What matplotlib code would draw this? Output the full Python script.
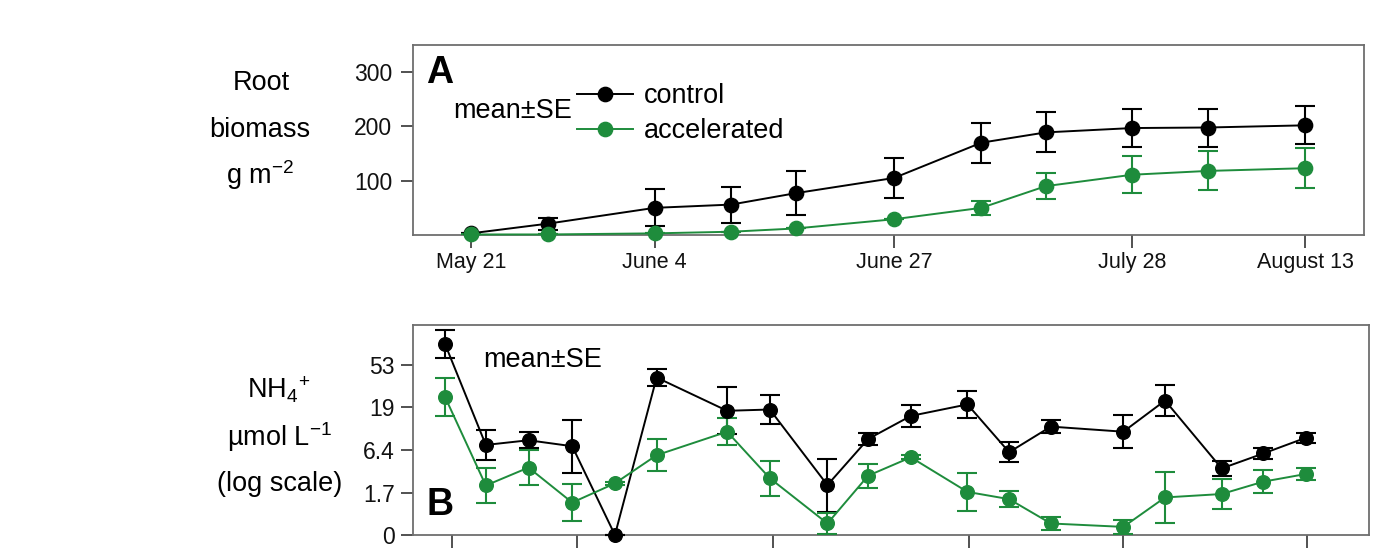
import numpy as np
import matplotlib
matplotlib.use("Agg")
import matplotlib.pyplot as plt
from matplotlib.lines import Line2D

plt.rcParams['font.family'] = ['Liberation Sans', 'DejaVu Sans']
plt.rcParams['mathtext.default'] = 'regular'

# ---------------- data ----------------
# Panel A: root biomass (g m-2), x = day offset from May 21
biomass_x = [0, 7.8, 18.5, 26.2, 32.7, 42.6, 51.4, 57.9, 66.6, 74.2, 84.0]
control_biomass = [3, 21, 50, 56, 77, 105, 170, 189, 197, 198, 202]
control_biomass_se = [0, 11, 34, 33, 41, 37, 37, 37, 35, 35, 35]
accel_biomass = [1, 1, 3, 6, 12, 29, 50, 90, 111, 118, 123]
accel_biomass_se = [0, 0, 0, 0, 0, 0, 13, 24, 34, 36, 37]
biomass_tick_pos = [0, 18.5, 42.6, 66.6, 84.0]
biomass_tick_labels = ["May 21", "June 4", "June 27", "July 28", "August 13"]

# Panel B: NH4+ (plotted as ln(1+x)), mean and SE on that scale
nh4_x = [-2.6, 1.5, 5.8, 10.2, 14.5, 18.7, 25.8, 30.1, 35.9, 40.0,
         44.3, 50.0, 54.2, 58.4, 65.7, 69.9, 75.6, 79.8, 84.1]
control_nh4 = [4.47, 2.11, 2.22, 2.08, 0.0, 3.69, 2.91, 2.94, 1.17, 2.25,
               2.79, 3.06, 1.94, 2.54, 2.42, 3.15, 1.56, 1.91, 2.28]
control_nh4_se = [0.33, 0.35, 0.19, 0.62, 0.0, 0.20, 0.55, 0.33, 0.62, 0.14,
                  0.25, 0.32, 0.24, 0.15, 0.39, 0.37, 0.17, 0.13, 0.12]
accel_nh4 = [3.23, 1.16, 1.58, 0.76, 1.21, 1.87, 2.42, 1.33, 0.27, 1.39,
             1.82, 1.01, 0.84, 0.27, 0.19, 0.88, 0.96, 1.25, 1.43]
accel_nh4_se = [0.45, 0.42, 0.41, 0.43, 0.03, 0.37, 0.32, 0.41, 0.24, 0.28,
                0.05, 0.44, 0.19, 0.16, 0.17, 0.59, 0.36, 0.27, 0.14]
nh4_tick_labels = ["0", "1.7", "6.4", "19", "53"]
nh4_xtick_pos = [-1.9, 10.7, 30.4, 50.2, 65.7, 84.2]

# ---------------- style ----------------
GREEN = '#1e8c3c'
BLACK = '#000000'
SPINE = '#6e6e6e'
LBL = 19.5

fig = plt.figure(figsize=(13.82, 5.52), dpi=100)
axA = fig.add_axes([0.2988, 0.5743, 0.6882, 0.3442])
axB = fig.add_axes([0.2988, 0.0308, 0.6918, 0.3804])

def style_axes(ax):
    for s in ax.spines.values():
        s.set_color(SPINE)
        s.set_linewidth(1.3)
    ax.tick_params(axis='both', length=9, width=1.2, color='#333333',
                   labelsize=15.5, labelcolor='#111111')

def draw(ax, x, y, se, color, ms):
    ax.errorbar(x, y, yerr=se, color=color, lw=1.4, marker='o', ms=ms,
                mec=color, mfc=color, elinewidth=1.5, capsize=7,
                capthick=1.5, clip_on=False, zorder=3)

# Panel A
style_axes(axA)
draw(axA, biomass_x, control_biomass, control_biomass_se, BLACK, 10.3)
draw(axA, biomass_x, accel_biomass, accel_biomass_se, GREEN, 10.3)
axA.set_xlim(-5.84, 89.94)
axA.set_ylim(0, 350)
axA.set_yticks([100, 200, 300])
axA.set_xticks(biomass_tick_pos)
axA.set_xticklabels(biomass_tick_labels)
axA.tick_params(axis='y', labelsize=16.5, pad=6)
axA.tick_params(axis='x', pad=3)
axA.text(0.014, 0.853, "A", transform=axA.transAxes, fontsize=27,
         fontweight='bold', ha='left', va='center')
axA.text(0.042, 0.653, "mean±SE", transform=axA.transAxes, fontsize=LBL,
         ha='left', va='center')
handles = [Line2D([], [], color=BLACK, lw=1.4, marker='o', ms=10.3),
           Line2D([], [], color=GREEN, lw=1.4, marker='o', ms=10.3)]
axA.legend(handles, ["control", "accelerated"], loc='upper left',
           bbox_to_anchor=(0.172, 0.80), frameon=False, fontsize=LBL,
           handlelength=2.1, handletextpad=0.4, labelspacing=0.35,
           borderpad=0, borderaxespad=0)

# Panel B
style_axes(axB)
draw(axB, nh4_x, control_nh4, control_nh4_se, BLACK, 9.8)
draw(axB, nh4_x, accel_nh4, accel_nh4_se, GREEN, 9.8)
axB.set_xlim(-5.84, 90.44)
axB.set_ylim(0, 4.92)
axB.set_yticks(np.log1p([float(v) for v in nh4_tick_labels]))
axB.set_yticklabels(nh4_tick_labels)
axB.set_xticks(nh4_xtick_pos)
axB.set_xticklabels([])
axB.tick_params(axis='y', labelsize=16.5, pad=4)
axB.text(0.014, 0.143, "B", transform=axB.transAxes, fontsize=27,
         fontweight='bold', ha='left', va='center')
axB.text(0.073, 0.833, "mean±SE", transform=axB.transAxes, fontsize=LBL,
         ha='left', va='center')

# y-axis labels
W, H = 1382, 552
def ftext(px, py, s):
    fig.text(px / W, 1 - py / H, s, ha='center', va='center', fontsize=LBL)

ftext(261, 83, "Root")
ftext(260, 130, "biomass")
ftext(260, 175, r"g m$^{-2}$")
ftext(279, 390, r"NH$_{4}$$^{+}$")
ftext(280, 437, r"µmol L$^{−1}$")
ftext(280, 484, "(log scale)")

fig.savefig("out.png", dpi=100)
